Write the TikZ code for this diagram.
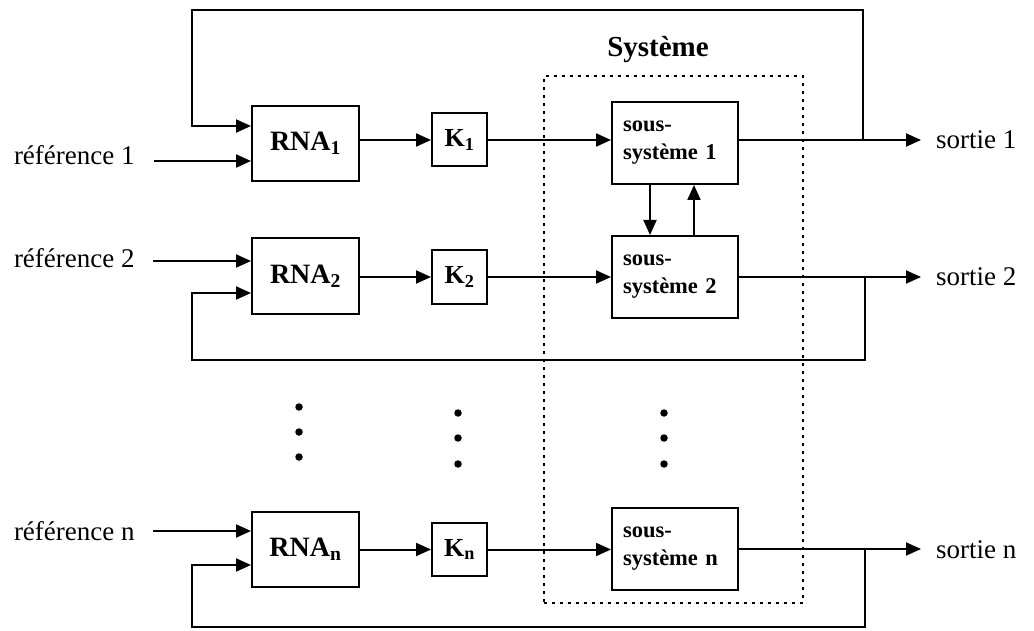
\documentclass[tikz,border=0pt]{standalone}
\usepackage{fontspec}
\setmainfont{Liberation Serif}
\usetikzlibrary{arrows.meta}
\begin{document}
\begin{tikzpicture}[x=1pt,y=-1pt,
  line width=2pt,
  arr/.style={-{Triangle[length=15pt,width=13pt]}},
  rna/.style={draw,minimum width=107pt,minimum height=75pt,inner sep=0pt,font=\fontsize{28}{32}\selectfont\bfseries},
  kbox/.style={draw,minimum width=55pt,minimum height=53pt,inner sep=0pt,font=\fontsize{26}{30}\selectfont\bfseries},
  ssbox/.style={draw,minimum width=126pt,minimum height=82pt,inner xsep=11pt,align=left,text width=104pt,font=\fontsize{22.5}{28}\selectfont\bfseries},
  lbl/.style={anchor=base west,inner sep=0pt,font=\fontsize{27}{32}\selectfont},
  dotn/.style={circle,fill,inner sep=0pt,minimum size=7.5pt},
  sysbox/.style={draw,dash pattern=on 3pt off 5pt,line width=2.2pt,inner sep=0pt}
]
\useasboundingbox (0,0) rectangle (1034,631);

% system frame
\node[sysbox,minimum width=259pt,minimum height=527pt] (sys) at (673.5,339.5) {};
\node[font=\fontsize{29}{34}\selectfont\bfseries] (systitle) at (658,50) {Système};

% row 1
\node[rna] (RNA1) at (305.5,143.5) {RNA\textsubscript{1}};
\node[kbox] (K1) at (459.5,140) {K\textsubscript{1}};
\node[ssbox] (SS1) at (675,143) {sous-\\système 1};
% row 2
\node[rna] (RNA2) at (305.5,276) {RNA\textsubscript{2}};
\node[kbox] (K2) at (459.5,277) {K\textsubscript{2}};
\node[ssbox] (SS2) at (675,277) {sous-\\système 2};
% row n
\node[rna] (RNAn) at (305.5,549.5) {RNA\textsubscript{n}};
\node[kbox] (Kn) at (459.5,549.5) {K\textsubscript{n}};
\node[ssbox] (SSn) at (675,549) {sous-\\système n};

% labels
\node[lbl] (ref1) at (13,165) {référence 1};
\node[lbl] (ref2) at (13,268) {référence 2};
\node[lbl] (refn) at (13,540) {référence n};
\node[lbl] (out1) at (935,149) {sortie 1};
\node[lbl] (out2) at (935,286) {sortie 2};
\node[lbl] (outn) at (935,558) {sortie n};

% dots
\node[dotn] (da1) at (299,407) {};
\node[dotn] (da2) at (299,432) {};
\node[dotn] (da3) at (299,457) {};
\node[dotn] (db1) at (458,413) {};
\node[dotn] (db2) at (458,438) {};
\node[dotn] (db3) at (458,464) {};
\node[dotn] (dc1) at (664,413) {};
\node[dotn] (dc2) at (664,438) {};
\node[dotn] (dc3) at (664,464) {};

% reference inputs
\coordinate (r1) at (154,161);
\coordinate (r2) at (153,261);
\coordinate (rn) at (153,531);
\draw[arr] (r1) -- (r1 -| RNA1.west);
\draw[arr] (r2) -- (r2 -| RNA2.west);
\draw[arr] (rn) -- (rn -| RNAn.west);

% RNA -> K -> SS
\draw[arr] (K1.west -| RNA1.east) -- (K1.west);
\draw[arr] (K2.west -| RNA2.east) -- (K2.west);
\draw[arr] (Kn.west -| RNAn.east) -- (Kn.west);
\draw[arr] (K1.east) -- (K1.east -| SS1.west);
\draw[arr] (K2.east) -- (K2.east -| SS2.west);
\draw[arr] (Kn.east) -- (Kn.east -| SSn.west);

% outputs
\coordinate (t1) at (921,140);
\coordinate (t2) at (921,277);
\coordinate (tn) at (921,549);
\draw[arr] (t1 -| SS1.east) -- (t1);
\draw[arr] (t2 -| SS2.east) -- (t2);
\draw[arr] (tn -| SSn.east) -- (tn);

% coupling between sub-systems
\coordinate (c1) at (650,0);
\coordinate (c2) at (694,0);
\draw[arr] (c1 |- SS1.south) -- (c1 |- SS2.north);
\draw[arr] (c2 |- SS2.north) -- (c2 |- SS1.south);

% feedback loops
\coordinate (b1) at (863,140);
\coordinate (b2) at (865,277);
\coordinate (bn) at (865,549);
\coordinate (f1) at (192,126);
\coordinate (f2) at (192,293);
\coordinate (fn) at (192,565);
\draw[arr] (b1) -- (863,10) -- (192,10) -- (f1) -- (f1 -| RNA1.west);
\draw[arr] (b2) -- (865,360) -- (192,360) -- (f2) -- (f2 -| RNA2.west);
\draw[arr] (bn) -- (865,627) -- (192,627) -- (fn) -- (fn -| RNAn.west);
\end{tikzpicture}
\end{document}
